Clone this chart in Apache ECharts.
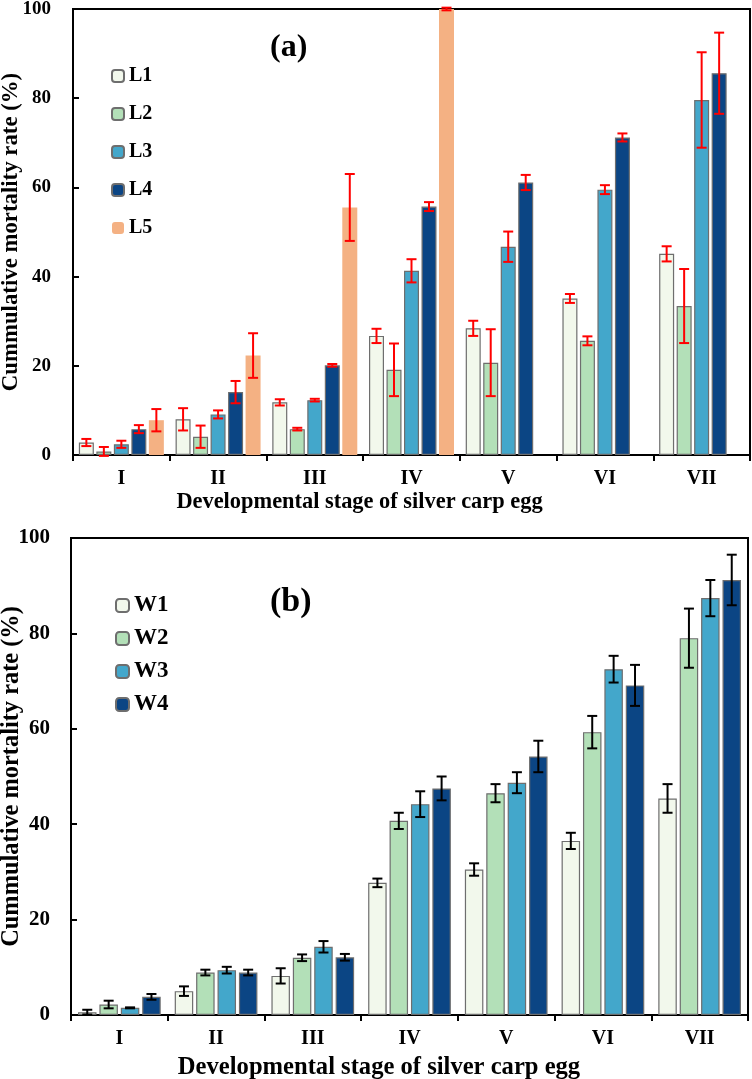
<!DOCTYPE html>
<html>
<head>
<meta charset="utf-8">
<script src="https://cdn.jsdelivr.net/npm/echarts@6/dist/echarts.min.js"></script>
<style>
  html, body { margin: 0; padding: 0; background: #fff; }
  #chart { width: 752px; height: 1079px; }
</style>
</head>
<body>
<div id="chart"></div>
<script>
// 发育阶段
const stages = ['I', 'II', 'III', 'IV', 'V', 'VI', 'VII']

// (a) L1-L5 及误差
const l1 = [2.8, 8.0, 11.8, 26.7, 28.4, 35.1, 45.1]
const l1Err = [0.8, 2.5, 0.7, 1.6, 1.7, 1.0, 1.7]
const l2 = [0.8, 4.1, 5.8, 19.1, 20.7, 25.6, 33.4]
const l2Err = [1.0, 2.5, 0.3, 5.9, 7.5, 1.0, 8.3]
const l3 = [2.4, 9.1, 12.3, 41.3, 46.7, 59.5, 79.6]
const l3Err = [0.8, 0.9, 0.3, 2.6, 3.4, 1.0, 10.7]
const l4 = [5.8, 14.1, 20.1, 55.7, 61.1, 71.2, 85.6]
const l4Err = [0.9, 2.5, 0.3, 1.0, 1.7, 0.9, 9.1]
const l5 = [7.8, 22.3, 55.5, 100, null, null, null]
const l5Err = [2.5, 5.0, 7.5, 0.3, null, null, null]

// (b) W1-W4 及误差
const w1 = [0.6, 5.0, 8.2, 27.7, 30.5, 36.5, 45.4]
const w1Err = [0.5, 1.0, 1.6, 0.9, 1.3, 1.7, 3.0]
const w2 = [2.2, 8.9, 12.0, 40.7, 46.5, 59.3, 79.0]
const w2Err = [0.8, 0.6, 0.7, 1.7, 1.9, 3.4, 6.2]
const w3 = [1.5, 9.4, 14.3, 44.2, 48.7, 72.5, 87.4]
const w3Err = [0.1, 0.7, 1.2, 2.7, 2.2, 2.8, 3.8]
const w4 = [3.8, 8.9, 12.1, 47.5, 54.2, 69.1, 91.2]
const w4Err = [0.6, 0.6, 0.7, 2.5, 3.3, 4.3, 5.3]

const colors = ['#F2F8EC', '#B3E0B8', '#43A7CB', '#0B4584', '#F4B183']
const font = 'Liberation Serif'

// 柱子宽度和间隔
const barWA = 15, gapA = 2.5
const barWB = 18.5, gapB = 2.9

function barSeries(name, data, color, axis, width, gap, border) {
  return {
    name: name,
    type: 'bar',
    xAxisIndex: axis,
    yAxisIndex: axis,
    data: data,
    barWidth: width,
    barGap: (gap / width * 100) + '%',
    itemStyle: {
      color: color,
      borderColor: border ? '#6e6e6e' : color,
      borderWidth: border ? 1.2 : 0,
    },
  }
}

// 误差线
function errorSeries(vals, errs, idx, n, step, color, axis) {
  let data = []
  for (var i = 0; i < vals.length; i++) {
    if (vals[i] == null) continue
    data.push([i, vals[i] - errs[i], vals[i] + errs[i]])
  }
  return {
    type: 'custom',
    xAxisIndex: axis,
    yAxisIndex: axis,
    z: 10,
    silent: true,
    clip: false,
    data: data,
    renderItem: function (params, api) {
      var x = api.coord([api.value(0), 0])[0] + (idx - (n - 1) / 2) * step
      var lo = api.coord([api.value(0), api.value(1)])[1]
      var hi = api.coord([api.value(0), api.value(2)])[1]
      var cap = 5
      var style = { stroke: color, lineWidth: 2 }
      return {
        type: 'group',
        children: [
          { type: 'line', shape: { x1: x, y1: lo, x2: x, y2: hi }, style: style },
          { type: 'line', shape: { x1: x - cap, y1: lo, x2: x + cap, y2: lo }, style: style },
          { type: 'line', shape: { x1: x - cap, y1: hi, x2: x + cap, y2: hi }, style: style },
        ],
      }
    },
  }
}

function xAxisOpt(idx, nameSize, shift, gap) {
  return {
    type: 'category',
    gridIndex: idx,
    data: stages,
    axisLine: { lineStyle: { color: '#000', width: 2 } },
    axisTick: { show: true, length: 6, lineStyle: { color: '#000', width: 2 } },
    axisLabel: { color: '#000', fontFamily: font, fontWeight: 'bold', fontSize: 20, margin: 14 },
    name: 'Developmental stage of silver carp egg',
    nameLocation: 'middle',
    nameGap: gap,
    nameMoveOverlap: false,
    nameTextStyle: {
      color: '#000', fontFamily: font, fontWeight: 'bold', fontSize: nameSize,
      padding: [0, shift, 0, 0],
    },
  }
}

function yAxisOpt(idx, labelSize, margin, nameSize, gap) {
  return {
    type: 'value',
    gridIndex: idx,
    min: 0,
    max: 100,
    interval: 20,
    axisLine: { show: true, lineStyle: { color: '#000', width: 2 } },
    axisTick: { show: true, inside: true, length: 6, lineStyle: { color: '#000', width: 2 } },
    splitLine: { show: false },
    axisLabel: { color: '#000', fontFamily: font, fontWeight: 'bold', fontSize: labelSize, margin: margin },
    name: 'Cummulative mortality rate (%)',
    nameLocation: 'middle',
    nameGap: gap,
    nameMoveOverlap: false,
    nameTextStyle: { color: '#000', fontFamily: font, fontWeight: 'bold', fontSize: nameSize },
  }
}

var myChart = echarts.init(document.getElementById('chart'))
var option = {
  animation: false,
  backgroundColor: '#fff',
  grid: [
    { left: 73, top: 9, width: 677, height: 446, show: true, borderColor: '#000', borderWidth: 2, outerBoundsMode: 'none', containLabel: false },
    { left: 71, top: 538, width: 677, height: 477, show: true, borderColor: '#000', borderWidth: 2, outerBoundsMode: 'none', containLabel: false },
  ],
  title: [
    { text: '(a)', left: 265, top: 27, textStyle: { fontFamily: font, fontWeight: 'bold', fontSize: 32, color: '#000' } },
    { text: '(b)', left: 265, top: 580, textStyle: { fontFamily: font, fontWeight: 'bold', fontSize: 34, color: '#000' } },
  ],
  legend: [
    {
      data: ['L1', 'L2', 'L3', 'L4', 'L5'],
      orient: 'vertical',
      left: 106,
      top: 61,
      itemWidth: 12,
      itemHeight: 12,
      itemGap: 18,
      textStyle: { fontFamily: font, fontWeight: 'bold', fontSize: 20, color: '#000' },
    },
    {
      data: ['W1', 'W2', 'W3', 'W4'],
      orient: 'vertical',
      left: 110,
      top: 589,
      itemWidth: 13,
      itemHeight: 13,
      itemGap: 10,
      textStyle: { fontFamily: font, fontWeight: 'bold', fontSize: 23, color: '#000' },
    },
  ],
  xAxis: [xAxisOpt(0, 22.4, 104, 36), xAxisOpt(1, 24.6, 61, 40)],
  yAxis: [yAxisOpt(0, 19, 22, 22.8, 50), yAxisOpt(1, 21, 21, 24.4, 47)],
  series: [
    barSeries('L1', l1, colors[0], 0, barWA, gapA, true),
    barSeries('L2', l2, colors[1], 0, barWA, gapA, true),
    barSeries('L3', l3, colors[2], 0, barWA, gapA, true),
    barSeries('L4', l4, colors[3], 0, barWA, gapA, true),
    barSeries('L5', l5, colors[4], 0, barWA, gapA, false),
    errorSeries(l1, l1Err, 0, 5, barWA + gapA, '#FF0000', 0),
    errorSeries(l2, l2Err, 1, 5, barWA + gapA, '#FF0000', 0),
    errorSeries(l3, l3Err, 2, 5, barWA + gapA, '#FF0000', 0),
    errorSeries(l4, l4Err, 3, 5, barWA + gapA, '#FF0000', 0),
    errorSeries(l5, l5Err, 4, 5, barWA + gapA, '#FF0000', 0),
    barSeries('W1', w1, colors[0], 1, barWB, gapB, true),
    barSeries('W2', w2, colors[1], 1, barWB, gapB, true),
    barSeries('W3', w3, colors[2], 1, barWB, gapB, true),
    barSeries('W4', w4, colors[3], 1, barWB, gapB, true),
    errorSeries(w1, w1Err, 0, 4, barWB + gapB, '#000', 1),
    errorSeries(w2, w2Err, 1, 4, barWB + gapB, '#000', 1),
    errorSeries(w3, w3Err, 2, 4, barWB + gapB, '#000', 1),
    errorSeries(w4, w4Err, 3, 4, barWB + gapB, '#000', 1),
  ],
}
myChart.setOption(option)
</script>
</body>
</html>
